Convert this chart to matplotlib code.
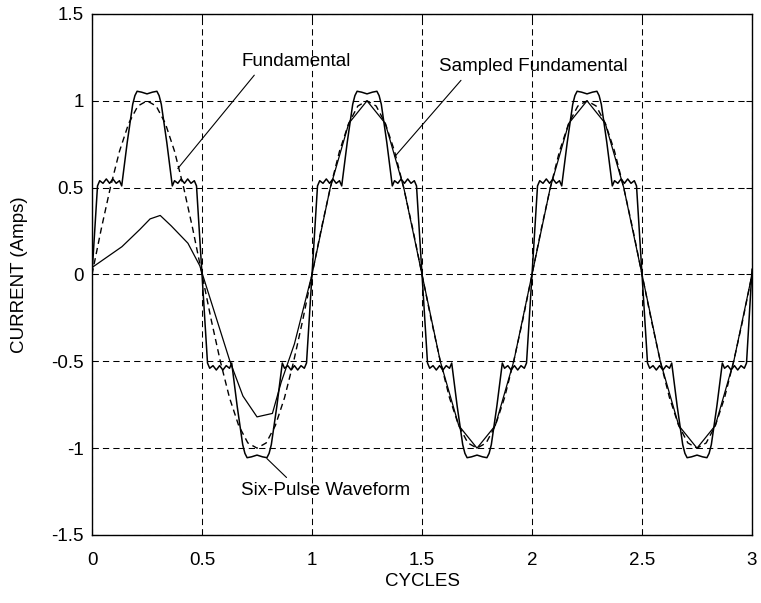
import numpy as np
import matplotlib
matplotlib.use("Agg")
import matplotlib.pyplot as plt

plt.rcParams["font.family"] = ["Liberation Sans", "DejaVu Sans"]
plt.rcParams["lines.scale_dashes"] = False

# ── Fundamental (sampled every 1/24 cycle) ──────────────────────────────────
fund_x = np.linspace(0, 3, 73)
fund_y = [
    0.00, 0.26, 0.50, 0.71, 0.87, 0.97, 1.00, 0.97, 0.87, 0.71, 0.50, 0.26,
    0.00, -0.26, -0.50, -0.71, -0.87, -0.97, -1.00, -0.97, -0.87, -0.71, -0.50, -0.26,
    0.00, 0.26, 0.50, 0.71, 0.87, 0.97, 1.00, 0.97, 0.87, 0.71, 0.50, 0.26,
    0.00, -0.26, -0.50, -0.71, -0.87, -0.97, -1.00, -0.97, -0.87, -0.71, -0.50, -0.26,
    0.00, 0.26, 0.50, 0.71, 0.87, 0.97, 1.00, 0.97, 0.87, 0.71, 0.50, 0.26,
    0.00, -0.26, -0.50, -0.71, -0.87, -0.97, -1.00, -0.97, -0.87, -0.71, -0.50, -0.26,
    0.00,
]

# ── Six-pulse line current ──────────────────────────────────────────────────
pulse_x = [
    0.000, 0.025, 0.035, 0.050, 0.065, 0.080, 0.095, 0.110, 0.125, 0.135,
    0.160, 0.185, 0.195, 0.205, 0.225, 0.250, 0.275, 0.295, 0.305, 0.315,
    0.340, 0.365, 0.375, 0.390, 0.405, 0.420, 0.435, 0.450, 0.465, 0.475,
    0.500, 0.525, 0.535, 0.550, 0.565, 0.580, 0.595, 0.610, 0.625, 0.635,
    0.660, 0.685, 0.695, 0.705, 0.725, 0.750, 0.775, 0.795, 0.805, 0.815,
    0.840, 0.865, 0.875, 0.890, 0.905, 0.920, 0.935, 0.950, 0.965, 0.975,
    1.000, 1.025, 1.035, 1.050, 1.065, 1.080, 1.095, 1.110, 1.125, 1.135,
    1.160, 1.185, 1.195, 1.205, 1.225, 1.250, 1.275, 1.295, 1.305, 1.315,
    1.340, 1.365, 1.375, 1.390, 1.405, 1.420, 1.435, 1.450, 1.465, 1.475,
    1.500, 1.525, 1.535, 1.550, 1.565, 1.580, 1.595, 1.610, 1.625, 1.635,
    1.660, 1.685, 1.695, 1.705, 1.725, 1.750, 1.775, 1.795, 1.805, 1.815,
    1.840, 1.865, 1.875, 1.890, 1.905, 1.920, 1.935, 1.950, 1.965, 1.975,
    2.000, 2.025, 2.035, 2.050, 2.065, 2.080, 2.095, 2.110, 2.125, 2.135,
    2.160, 2.185, 2.195, 2.205, 2.225, 2.250, 2.275, 2.295, 2.305, 2.315,
    2.340, 2.365, 2.375, 2.390, 2.405, 2.420, 2.435, 2.450, 2.465, 2.475,
    2.500, 2.525, 2.535, 2.550, 2.565, 2.580, 2.595, 2.610, 2.625, 2.635,
    2.660, 2.685, 2.695, 2.705, 2.725, 2.750, 2.775, 2.795, 2.805, 2.815,
    2.840, 2.865, 2.875, 2.890, 2.905, 2.920, 2.935, 2.950, 2.965, 2.975,
    3.000,
]
pulse_y = [
    0.00, 0.51, 0.54, 0.525, 0.55, 0.525, 0.55, 0.525, 0.54, 0.51,
    0.76, 0.98, 1.03, 1.055, 1.05, 1.04, 1.05, 1.055, 1.03, 0.98,
    0.76, 0.51, 0.54, 0.525, 0.55, 0.525, 0.55, 0.525, 0.54, 0.51,
    0.00, -0.51, -0.54, -0.525, -0.55, -0.525, -0.55, -0.525, -0.54, -0.51,
    -0.76, -0.98, -1.03, -1.055, -1.05, -1.04, -1.05, -1.055, -1.03, -0.98,
    -0.76, -0.51, -0.54, -0.525, -0.55, -0.525, -0.55, -0.525, -0.54, -0.51,
    0.00, 0.51, 0.54, 0.525, 0.55, 0.525, 0.55, 0.525, 0.54, 0.51,
    0.76, 0.98, 1.03, 1.055, 1.05, 1.04, 1.05, 1.055, 1.03, 0.98,
    0.76, 0.51, 0.54, 0.525, 0.55, 0.525, 0.55, 0.525, 0.54, 0.51,
    0.00, -0.51, -0.54, -0.525, -0.55, -0.525, -0.55, -0.525, -0.54, -0.51,
    -0.76, -0.98, -1.03, -1.055, -1.05, -1.04, -1.05, -1.055, -1.03, -0.98,
    -0.76, -0.51, -0.54, -0.525, -0.55, -0.525, -0.55, -0.525, -0.54, -0.51,
    0.00, 0.51, 0.54, 0.525, 0.55, 0.525, 0.55, 0.525, 0.54, 0.51,
    0.76, 0.98, 1.03, 1.055, 1.05, 1.04, 1.05, 1.055, 1.03, 0.98,
    0.76, 0.51, 0.54, 0.525, 0.55, 0.525, 0.55, 0.525, 0.54, 0.51,
    0.00, -0.51, -0.54, -0.525, -0.55, -0.525, -0.55, -0.525, -0.54, -0.51,
    -0.76, -0.98, -1.03, -1.055, -1.05, -1.04, -1.05, -1.055, -1.03, -0.98,
    -0.76, -0.51, -0.54, -0.525, -0.55, -0.525, -0.55, -0.525, -0.54, -0.51,
    0.03,
]

# ── Sampled fundamental (estimator start-up in the first cycle) ─────────────
samp_x = [
    0.000, 0.136, 0.218, 0.264, 0.310, 0.360, 0.436, 0.490,
    0.627, 0.686, 0.750, 0.820, 0.860, 0.920, 1.000,
    1.083, 1.167, 1.250, 1.333, 1.417, 1.500, 1.583, 1.667, 1.750, 1.833, 1.917,
    2.000, 2.083, 2.167, 2.250, 2.333, 2.417, 2.500, 2.583, 2.667, 2.750, 2.833, 2.917,
    3.000,
]
samp_y = [
    0.04, 0.16, 0.26, 0.32, 0.34, 0.28, 0.18, 0.05,
    -0.50, -0.70, -0.82, -0.80, -0.62, -0.40, 0.00,
    0.50, 0.87, 1.00, 0.87, 0.50, 0.00, -0.50, -0.87, -1.00, -0.87, -0.50,
    0.00, 0.50, 0.87, 1.00, 0.87, 0.50, 0.00, -0.50, -0.87, -1.00, -0.87, -0.50,
    0.00,
]

x_ticks = [0, 0.5, 1, 1.5, 2, 2.5, 3]
x_ticklabels = ["0", "0.5", "1", "1.5", "2", "2.5", "3"]
y_ticks = [-1.5, -1, -0.5, 0, 0.5, 1, 1.5]
y_ticklabels = ["-1.5", "-1", "-0.5", "0", "0.5", "1", "1.5"]

FS = 13.5
DASH = (0, (4.5, 3.0))

fig = plt.figure(figsize=(7.61, 6.03), dpi=100)
ax = fig.add_axes([0.1209, 0.1128, 0.8673, 0.8640])

ax.plot(fund_x, fund_y, color="black", lw=1.0, linestyle=DASH)
ax.plot(samp_x, samp_y, color="black", lw=0.9)
ax.plot(pulse_x, pulse_y, color="black", lw=1.1)

ax.set_xlim(0, 3)
ax.set_ylim(-1.5, 1.5)
ax.set_xticks(x_ticks)
ax.set_xticklabels(x_ticklabels)
ax.set_yticks(y_ticks)
ax.set_yticklabels(y_ticklabels)
ax.grid(True, color="black", lw=0.75, linestyle=DASH)
ax.tick_params(direction="in", length=4, width=0.75, top=True, right=True,
               labelsize=FS, colors="black")
ax.tick_params(axis="x", pad=12)
ax.tick_params(axis="y", pad=6)
for sp in ax.spines.values():
    sp.set_linewidth(1.0)
    sp.set_color("black")

ax.set_xlabel("CYCLES", fontsize=FS)
ax.set_ylabel("CURRENT (Amps)", fontsize=FS)
ax.xaxis.set_label_coords(0.5, -0.073)
ax.yaxis.set_label_coords(-0.097, 0.5)

# leader-line labels
line_kw = dict(arrowstyle="-", color="black", lw=0.8, shrinkA=2, shrinkB=0)
ax.annotate("Fundamental", xy=(0.39, 0.61), xytext=(0.93, 1.225),
            ha="center", va="center", fontsize=FS,
            arrowprops=dict(relpos=(0.15, 0.0), **line_kw))
ax.annotate("Sampled Fundamental", xy=(1.377, 0.68), xytext=(2.005, 1.195),
            ha="center", va="center", fontsize=FS,
            arrowprops=dict(relpos=(0.14, 0.0), **line_kw))
ax.annotate("Six-Pulse Waveform", xy=(0.795, -1.06), xytext=(1.06, -1.245),
            ha="center", va="center", fontsize=FS,
            arrowprops=dict(relpos=(0.30, 1.0), **line_kw))

fig.savefig("out.png", dpi=100, facecolor="white")
